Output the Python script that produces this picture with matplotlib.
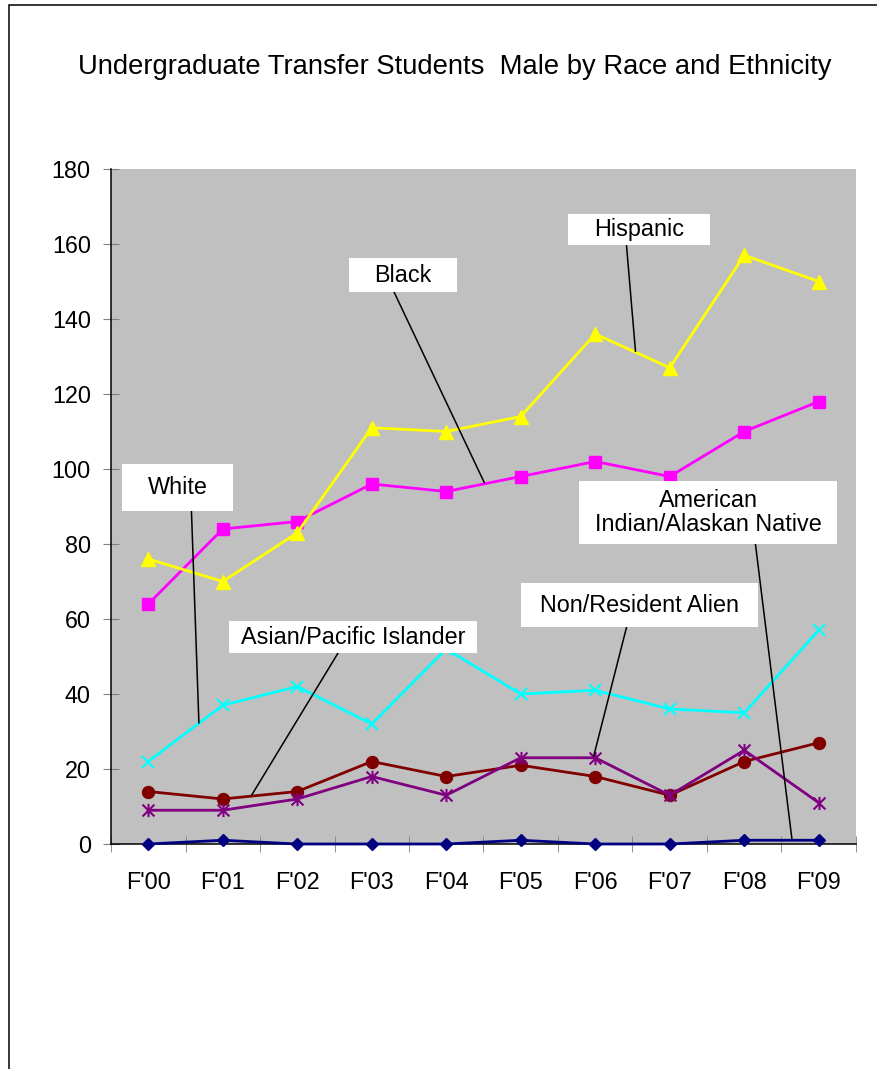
#!/usr/bin/env python3
"""Undergraduate transfer students, male, by race/ethnicity (F'00 - F'09)."""
import matplotlib

matplotlib.use("Agg")
import matplotlib.pyplot as plt  # noqa: E402
from matplotlib.patches import Rectangle  # noqa: E402
from matplotlib.path import Path  # noqa: E402

plt.rcParams["font.family"] = ["Liberation Sans", "DejaVu Sans"]

years = ["F'00", "F'01", "F'02", "F'03", "F'04", "F'05", "F'06", "F'07", "F'08", "F'09"]
hispanic = [76, 70, 83, 111, 110, 114, 136, 127, 157, 150]
black = [64, 84, 86, 96, 94, 98, 102, 98, 110, 118]
white = [22, 37, 42, 32, 52, 40, 41, 36, 35, 57]
asian = [14, 12, 14, 22, 18, 21, 18, 13, 22, 27]
nonres = [9, 9, 12, 18, 13, 23, 23, 13, 25, 11]
amind = [0, 1, 0, 0, 0, 1, 0, 0, 1, 1]

# excel-style asterisk: an x plus a vertical bar
asterisk = Path(
    [(0, -0.5), (0, 0.5), (-0.45, -0.45), (0.45, 0.45), (-0.45, 0.45), (0.45, -0.45)],
    [Path.MOVETO, Path.LINETO] * 3,
)

# (values, colour, marker, size, filled) in excel drawing order
series = [
    (amind, "#000080", "D", 5.8, True),
    (black, "#FF00FF", "s", 8.6, True),
    (hispanic, "#FFFF00", "^", 9.4, True),
    (white, "#00FFFF", "x", 8.5, False),
    (asian, "#800000", "o", 8.6, True),
    (nonres, "#800080", asterisk, 9.5, False),
]

# callout boxes: text, box (x0, x1, y0, y1) and leader (from, to) in data units
callouts = [
    ("Hispanic", (5.63, 7.54, 159.8, 168.1), ((6.42, 159.5), (6.54, 131.4))),
    ("Black", (2.69, 4.15, 147.1, 156.3), ((3.28, 148.0), (4.51, 96.4))),
    ("White", (-0.35, 1.14, 88.7, 101.4), ((0.58, 88.7), (0.68, 32.3))),
    ("Asian/Pacific Islander", (1.08, 4.41, 50.9, 59.5), ((2.55, 51.0), (1.39, 13.1))),
    ("Non/Resident Alien", (5.0, 8.18, 57.8, 69.6), ((6.42, 57.8), (5.98, 23.5))),
    ("American\nIndian/Alaskan Native", (5.78, 9.25, 80.0, 96.9),
     ((8.15, 80.0), (8.64, 1.3))),
]

W, H = 878, 1069
fig = plt.figure(figsize=(W / 100, H / 100), dpi=100)
fig.patches.append(Rectangle((9 / W, -0.1), 1.2, 1.1 - 5 / H, transform=fig.transFigure,
                             fill=False, edgecolor="black", lw=1.1))
fig.text(455 / W, 1 - 74 / H, "Undergraduate Transfer Students  Male by Race and Ethnicity",
         ha="center", va="baseline", fontsize=19.7)

ax = fig.add_axes([111 / W, 225 / H, 745 / W, 675 / H])
ax.set_facecolor("#C0C0C0")
x = list(range(len(years)))
for vals, color, marker, ms, filled in series:
    kw = dict(markerfacecolor=color) if filled else dict(markerfacecolor="none", mew=1.5)
    ax.plot(x, vals, color=color, lw=2, marker=marker, ms=ms, mec=color,
            clip_on=False, zorder=3, **kw)

for text, (x0, x1, y0, y1), (p0, p1) in callouts:
    ax.plot([p0[0], p1[0]], [p0[1], p1[1]], color="black", lw=1.1, zorder=4)
    ax.add_patch(Rectangle((x0, y0), x1 - x0, y1 - y0, facecolor="white",
                           edgecolor="none", zorder=5))
    ax.text((x0 + x1) / 2, (y0 + y1) / 2, text, ha="center", va="center",
            fontsize=16.8, linespacing=1.05, zorder=6)

ax.set_xlim(-0.5, 9.5)
ax.set_ylim(0, 180)
ax.set_yticks(range(0, 181, 20))
ax.set_xticks(x)
ax.set_xticklabels(years)
ax.set_xticks([i - 0.5 for i in range(len(years) + 1)], minor=True)
ax.tick_params(axis="x", which="major", length=0, pad=19.5, labelsize=16.8)
ax.tick_params(axis="x", which="minor", length=11, direction="inout", color="#808080")
ax.tick_params(axis="y", length=11, direction="inout", color="#808080", pad=9,
               labelsize=16.8)
for side in ("top", "right"):
    ax.spines[side].set_visible(False)
for side in ("left", "bottom"):
    ax.spines[side].set_linewidth(1.1)
    ax.spines[side].set_zorder(2.5)

fig.savefig("out.png", dpi=100)
